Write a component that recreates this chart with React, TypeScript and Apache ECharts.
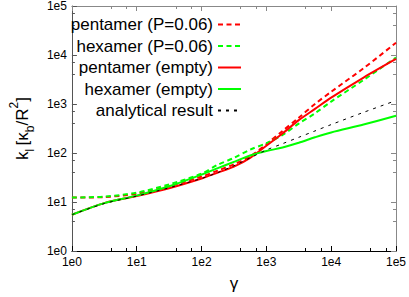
import React, { useEffect, useRef } from "react";
import * as echarts from "echarts";

const xValues = [1, 3.16, 10, 31.6, 100, 178, 316, 562, 1000, 1778, 3162, 5623, 10000, 31623, 100000];
const pentamerP = [12.3, 12.6, 14.8, 20.9, 33.1, 43.7, 58.9, 85.1, 151, 282, 525, 1000, 1778, 5370, 17783];
const hexamerP = [12.3, 12.9, 15.5, 22.9, 38, 57.5, 79.4, 117, 158, 234, 398, 646, 1122, 3090, 8913];
const pentamerEmpty = [5.5, 9.5, 13.2, 19.1, 30.2, 39.8, 52.5, 79.4, 141, 251, 468, 794, 1349, 3467, 8318];
const hexamerEmpty = [5.5, 9.5, 13.5, 20.9, 36.3, 49, 66.1, 89.1, 110, 129, 162, 209, 263, 380, 575];
const analytical = [5.5, 9.3, 13.2, 19.5, 30.2, 39.8, 55, 79.4, 115, 155, 209, 282, 380, 676, 1175];

const seriesNames = [
  "pentamer (P=0.06)",
  "hexamer (P=0.06)",
  "pentamer (empty)",
  "hexamer (empty)",
  "analytical result",
];

const FONT = "Liberation Sans, Arial, sans-serif";

function pairs(ys: number[]) {
  return xValues.map((x, i) => [x, ys[i]]);
}

export default function App() {
  const ref = useRef<HTMLDivElement>(null);
  useEffect(() => {
    if (!ref.current) return;
    const chart = echarts.init(ref.current, null, { renderer: "svg" });
    const fmt = (v: number) => "1e" + Math.round(Math.log10(v));
    const baseAxis = (pos: string, color: string, showLabel: boolean) => ({
      type: "log" as const,
      logBase: 10,
      min: 1,
      max: 100000,
      position: pos,
      axisLine: { show: true, lineStyle: { color, width: 1 } },
      axisTick: { show: true, inside: true, length: 5, lineStyle: { color } },
      minorTick: { show: true, splitNumber: 3, length: 3, lineStyle: { color } },
      splitLine: { show: false },
      minorSplitLine: { show: false },
      axisLabel: {
        show: showLabel,
        formatter: fmt,
        fontSize: 12,
        color: "#000",
        fontFamily: FONT,
        margin: 5,
      },
    });
    const lineSeries = (name: string, data: number[], color: string, type: any, width: number) => ({
      name,
      type: "line",
      data: pairs(data),
      symbol: "none",
      smooth: 0.3,
      lineStyle: { color, width, type },
      itemStyle: { color },
      z: 3,
    });
    chart.setOption({
      animation: false,
      grid: { left: 53, right: 11, top: 5, bottom: 32, containLabel: false },
      legend: {
        orient: "vertical",
        align: "right",
        right: 162,
        top: 11,
        itemWidth: 23,
        itemHeight: 10,
        itemGap: 4.5,
        itemStyle: { opacity: 0 },
        textStyle: { fontSize: 17, color: "#000", fontFamily: FONT },
        data: seriesNames,
      },
      xAxis: [
        {
          ...baseAxis("bottom", "#000", true),
          name: "γ",
          nameLocation: "middle",
          nameGap: 24,
          nameTextStyle: { fontSize: 17, color: "#000", fontFamily: FONT },
        },
        { ...baseAxis("top", "#888", false) },
      ],
      yAxis: [
        {
          ...baseAxis("left", "#555", true),
          name: "{k|k}{sub|l} {k|[κ}{sub|b}{k|/R}{sup|2}{k|]}",
          nameLocation: "middle",
          nameGap: 30,
          nameRotate: 90,
          nameTextStyle: {
            fontFamily: FONT,
            color: "#000",
            rich: {
              k: { fontSize: 17, lineHeight: 28, verticalAlign: "middle", fontFamily: FONT, color: "#000" },
              sub: { fontSize: 12, lineHeight: 12, verticalAlign: "bottom", fontFamily: FONT, color: "#000" },
              sup: { fontSize: 12, lineHeight: 12, verticalAlign: "top", fontFamily: FONT, color: "#000" },
            },
          },
        },
        { ...baseAxis("right", "#888", false) },
      ],
      series: [
        lineSeries(seriesNames[0], pentamerP, "#ff0000", [5, 3.5], 2),
        lineSeries(seriesNames[1], hexamerP, "#00ff00", [5, 3.5], 2),
        lineSeries(seriesNames[2], pentamerEmpty, "#ff0000", "solid", 2),
        lineSeries(seriesNames[3], hexamerEmpty, "#00ff00", "solid", 2),
        lineSeries(seriesNames[4], analytical, "#000000", [3, 5], 1),
      ],
    });
    return () => chart.dispose();
  }, []);
  return (
    <div
      ref={ref}
      style={{ position: "absolute", left: 0, top: 0, width: 409, height: 297 }}
    />
  );
}
